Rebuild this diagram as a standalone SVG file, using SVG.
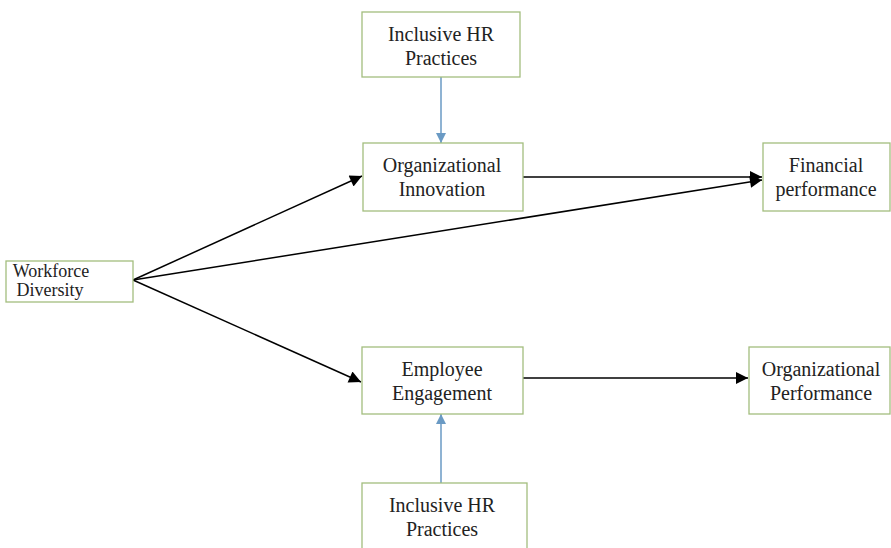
<svg xmlns="http://www.w3.org/2000/svg" width="891" height="548" viewBox="0 0 891 548">
<style>
.box{fill:#fff;stroke:#a3bd7e;stroke-width:1.3}
.t{font-family:"Liberation Serif","Times New Roman",serif;font-size:20px;fill:#222;text-anchor:middle}
.s{font-size:18px}
.c{stroke:#000;stroke-width:1.5;fill:none}
.b{stroke:#6a9ac4;stroke-width:1.5;fill:none}
</style>
<defs>
<marker id="bh" viewBox="0 0 10 10" refX="10" refY="5" markerWidth="10" markerHeight="10" markerUnits="userSpaceOnUse" orient="auto">
<path d="M0,0 L10,5 L0,10 z" fill="#6a9ac4"/>
</marker>
<marker id="kh" viewBox="0 0 10 10" refX="10" refY="5" markerWidth="14" markerHeight="12" markerUnits="userSpaceOnUse" orient="auto">
<path d="M0,0 L10,5 L0,10 z" fill="#000"/>
</marker>
</defs>
<rect width="891" height="548" fill="#fff"/>
<g id="connectors">
<line class="b" x1="441" y1="77" x2="441" y2="143" marker-end="url(#bh)"/>
<line class="b" x1="441" y1="483" x2="441" y2="414" marker-end="url(#bh)"/>
<line class="c" x1="523" y1="177" x2="762" y2="177" marker-end="url(#kh)"/>
<line class="c" x1="133" y1="280" x2="362" y2="176" marker-end="url(#kh)"/>
<line class="c" x1="133" y1="280" x2="762" y2="180" marker-end="url(#kh)"/>
<line class="c" x1="133" y1="280" x2="361" y2="382" marker-end="url(#kh)"/>
<line class="c" x1="523" y1="378" x2="748" y2="378" marker-end="url(#kh)"/>
</g>
<g id="hr-top">
<rect class="box" x="362" y="12" width="158" height="65"/>
<text class="t" x="441" y="41">Inclusive HR</text>
<text class="t" x="441" y="65">Practices</text>
</g>
<g id="org-innovation">
<rect class="box" x="363" y="143" width="160" height="68"/>
<text class="t" x="442" y="172">Organizational</text>
<text class="t" x="442" y="196">Innovation</text>
</g>
<g id="financial">
<rect class="box" x="763" y="143" width="127" height="68"/>
<text class="t" x="826" y="172">Financial</text>
<text class="t" x="826" y="196">performance</text>
</g>
<g id="workforce">
<rect class="box" x="6" y="261" width="127" height="41"/>
<text class="t s" x="51" y="277">Workforce</text>
<text class="t s" x="50" y="296">Diversity</text>
</g>
<g id="employee">
<rect class="box" x="362" y="347" width="161" height="67"/>
<text class="t" x="442" y="376">Employee</text>
<text class="t" x="442" y="400">Engagement</text>
</g>
<g id="org-performance">
<rect class="box" x="749" y="347" width="141" height="67"/>
<text class="t" x="821" y="376">Organizational</text>
<text class="t" x="821" y="400">Performance</text>
</g>
<g id="hr-bottom">
<rect class="box" x="362" y="483" width="165" height="70"/>
<text class="t" x="442" y="512">Inclusive HR</text>
<text class="t" x="442" y="536">Practices</text>
</g>
</svg>
